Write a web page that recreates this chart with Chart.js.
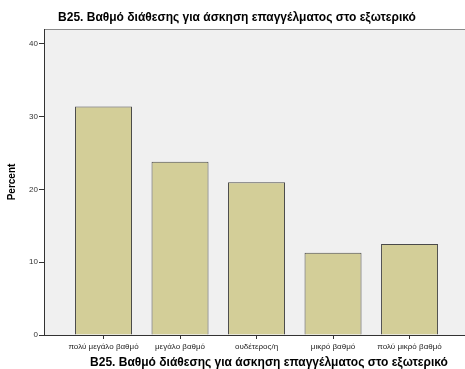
<!DOCTYPE html>
<html lang="el">
<head>
<meta charset="utf-8">
<title>B25</title>
<script src="https://cdn.jsdelivr.net/npm/chart.js@4.4.0/dist/chart.umd.min.js"></script>
<style>
  html, body { margin: 0; padding: 0; background: #ffffff; }
  #wrap { width: 465px; height: 369px; }
</style>
</head>
<body>
<div id="wrap"><canvas id="chart" width="465" height="369"></canvas></div>
<script>
const chartTitle = "B25. Βαθμό διάθεσης για άσκηση επαγγέλματος στο εξωτερικό";
const categories = ["πολύ μεγάλο βαθμό", "μεγάλο βαθμό", "ουδέτερος/η", "μικρό βαθμό", "πολύ μικρό βαθμό"];
const percents = [31.4, 23.8, 21.0, 11.3, 12.5];
const yTicks = [0, 10, 20, 30, 40];

const FONT = "'Liberation Sans', Arial, sans-serif";

// plot background + top frame, and the two titles
const frame = {
  id: "frame",
  beforeDraw(chart) {
    const { ctx, chartArea: a } = chart;
    ctx.save();
    ctx.fillStyle = "#f0f0f0";
    ctx.fillRect(a.left, a.top, a.right - a.left, a.bottom - a.top);
    ctx.strokeStyle = "#8a8a8a";
    ctx.lineWidth = 1;
    ctx.beginPath();
    ctx.moveTo(a.left, a.top + 0.5);
    ctx.lineTo(a.right, a.top + 0.5);
    ctx.stroke();
    ctx.restore();
  },
  afterDraw(chart) {
    const { ctx } = chart;
    ctx.save();
    ctx.fillStyle = "#000000";
    ctx.font = "bold 12px " + FONT;
    ctx.textAlign = "center";
    ctx.textBaseline = "middle";
    ctx.fillText(chartTitle, 237, 18);
    ctx.fillText(chartTitle, 269, 363);
    ctx.restore();
  }
};

new Chart(document.getElementById("chart"), {
  type: "bar",
  data: {
    datasets: [{
      data: percents.map((v, i) => ({ x: i, y: v })),
      backgroundColor: "#d3ce98",
      borderColor: "#4a4a4a",
      borderWidth: 1,
      barPercentage: 0.745,
      categoryPercentage: 1
    }]
  },
  options: {
    responsive: false,
    animation: false,
    layout: { padding: { top: 29, right: 0, left: 0, bottom: 0 } },
    plugins: {
      legend: { display: false },
      tooltip: { enabled: false },
      title: { display: false }
    },
    scales: {
      x: {
        type: "linear",
        offset: false,
        min: -0.778,
        max: 4.725,
        afterBuildTicks: s => { s.ticks = categories.map((_, i) => ({ value: i })); },
        afterFit: s => { s.height = 34; },
        grid: { offset: false, drawOnChartArea: false, drawTicks: true, tickLength: 4, color: "#333333" },
        border: { display: true, color: "#333333", width: 1 },
        ticks: {
          autoSkip: false,
          maxRotation: 0,
          padding: 3,
          color: "#222222",
          font: { family: FONT, size: 8 },
          callback: v => categories[v]
        }
      },
      y: {
        min: 0,
        max: 42.06,
        afterBuildTicks: s => { s.ticks = yTicks.map(v => ({ value: v })); },
        afterFit: s => { s.width = 44; },
        grid: { drawOnChartArea: false, drawTicks: true, tickLength: 5, color: "#333333" },
        border: { display: true, color: "#333333", width: 1 },
        ticks: {
          padding: 1,
          color: "#333333",
          font: { family: FONT, size: 8 }
        },
        title: {
          display: true,
          text: "Percent",
          color: "#000000",
          font: { family: FONT, size: 10, weight: "bold" },
          padding: { top: 6, bottom: 0 }
        }
      }
    }
  },
  plugins: [frame]
});
</script>
</body>
</html>
